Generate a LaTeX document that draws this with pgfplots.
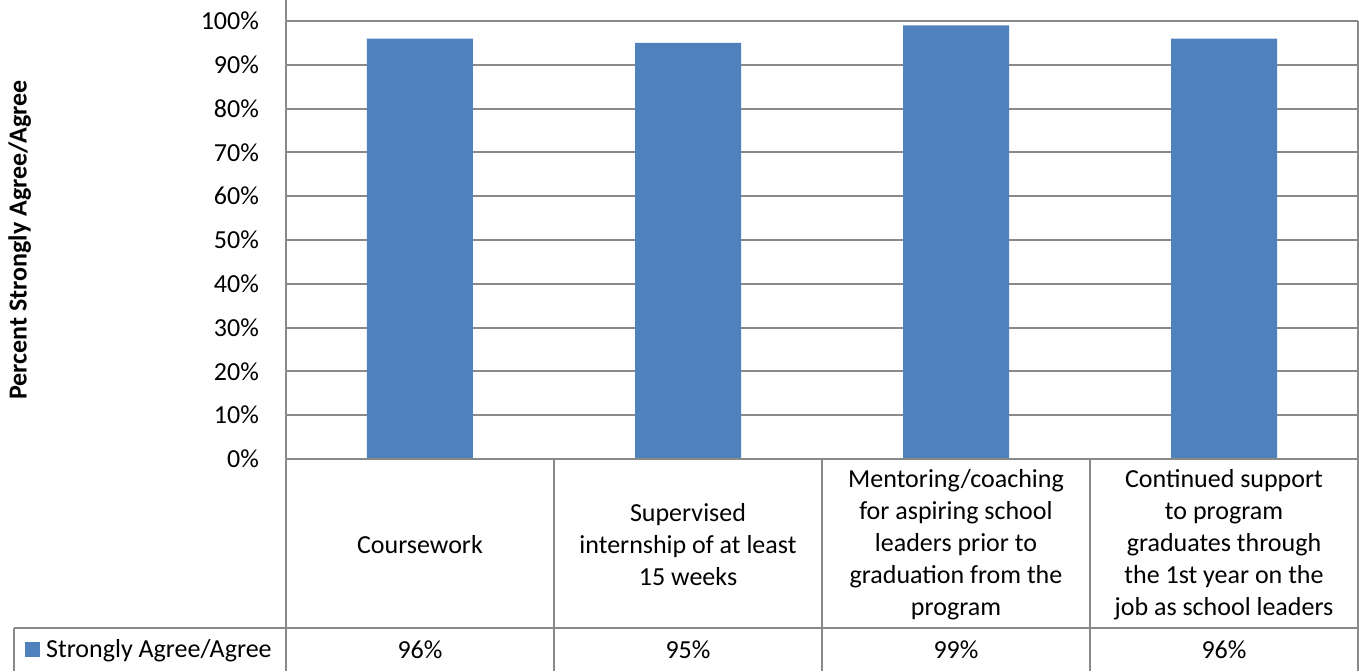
\documentclass[border=0pt]{standalone}
\usepackage{pgfplots}
\pgfplotsset{compat=1.18}
\usepackage{fontspec}
\setmainfont{Carlito}
\definecolor{barblue}{HTML}{4F81BD}
\definecolor{gridgray}{HTML}{898989}
\begin{document}
\fontsize{13}{16}\selectfont
\begin{tikzpicture}
\useasboundingbox (-143pt,-106pt) rectangle (536.5pt,229.5pt);
\begin{axis}[
  at={(0,0)}, anchor=south west,
  scale only axis,
  width=536pt, height=219pt,
  xmin=0, xmax=4, ymin=0, ymax=100,
  ybar, bar width=53pt, bar shift=0pt,
  axis line style={draw=none},
  xtick={0.5,1.5,2.5,3.5},
  xticklabels={
    {Coursework},
    {Supervised\\internship of at least\\15 weeks},
    {Mentoring/coaching\\for aspiring school\\leaders prior to\\graduation from the\\program},
    {Continued support\\to program\\graduates through\\the 1st year on the\\job as school leaders}},
  xticklabel style={align=center, anchor=center, yshift=-42.75pt, font=\fontsize{13}{16}\selectfont},
  extra x ticks={0.5,1.5,2.5,3.5},
  extra x tick labels={96\%,95\%,99\%,96\%},
  extra x tick style={xticklabel style={yshift=-52.75pt}, major tick length=0pt},
  major tick length=0pt,
  ytick={0,10,...,100},
  yticklabel={\pgfmathprintnumber{\tick}\%},
  yticklabel style={font=\fontsize{13}{16}\selectfont, xshift=-9pt},
  /pgf/number format/assume math mode=true,
  ymajorgrids, grid style={draw=gridgray, line width=1pt},
  ylabel={\bfseries Percent Strongly Agree/Agree},
  ylabel style={at={(axis description cs:-0.2484,0.5)}, anchor=center, font=\fontsize{13}{16}\selectfont},
  clip=false,
  legend style={at={(axis description cs:-0.2437,-0.436)}, anchor=west, draw=none, fill=none, inner sep=0pt, font=\fontsize{13}{16}\selectfont,
    /tikz/every odd column/.append style={column sep=1pt}},
  legend image code/.code={\fill[barblue] (0pt,-3.75pt) rectangle (7.5pt,3.75pt);},
]
\addplot[fill=barblue, draw=none] coordinates {(0.5,96) (1.5,95) (2.5,99) (3.5,96)};
\addlegendentry{Strongly Agree/Agree}
\end{axis}
\begin{scope}[draw=gridgray, line width=1pt]
\draw (0,229.5pt) -- (0,-106pt);
\draw (0,0) -- (536pt,0);
\draw (-136pt,-84.5pt) -- (536pt,-84.5pt);
\draw (-136pt,-84.5pt) -- (-136pt,-106pt);
\draw (134pt,0) -- (134pt,-106pt);
\draw (268pt,0) -- (268pt,-106pt);
\draw (402pt,0) -- (402pt,-106pt);
\draw (536pt,219pt) -- (536pt,-106pt);
\end{scope}
\end{tikzpicture}
\end{document}
